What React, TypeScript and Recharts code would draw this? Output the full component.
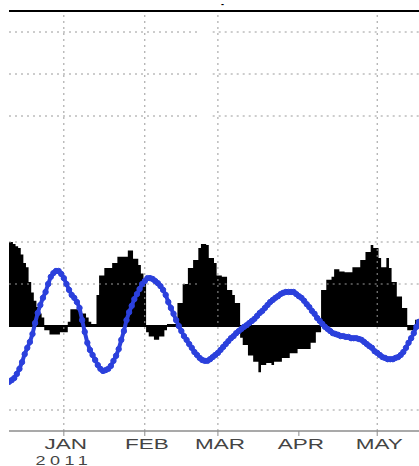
import { Area, ComposedChart, Line, ReferenceLine, XAxis, YAxis } from "recharts";

// days counted from 1 Jan 2011; first sample is 11 Dec 2010
const START_DAY = -21;

// daily anomaly (black step bars)
const anomaly = [
  20, 20, 19.5, 19, 18.6, 17, 15, 14, 10.5, 8,
  6, 4.5, 3, 2, -1, -1, -2, -2, -2, -2,
  -1.5, -1.5, -1.5, 1, 4, 4, 4, 3.5, 3, 3,
  2, 1, 0.5, 0.5, 7.4, 12, 12, 13.8, 13.8, 13.8,
  15, 15, 16.5, 16.5, 16.5, 16.5, 18, 18, 16, 16,
  14.5, 12.5, 10, -1.5, -2.5, -2.5, -3.3, -3.3, -2.5, -2.5,
  -1, 0.5, 0.5, 0.5, 0.5, 5.5, 5.5, 10, 10, 13.8,
  13.8, 15.7, 15.7, 18.6, 19.5, 19.5, 19.3, 16.2, 16.2, 15,
  12, 12, 11.7, 11.7, 8.6, 8.6, 7.4, 5.5, 5.5, -2.8,
  -4.5, -4.5, -7, -7, -8.5, -8.5, -11, -9.3, -9.3, -8.8,
  -8.8, -9.3, -8.5, -8.5, -8.5, -7.6, -7.6, -7.6, -6.5, -6.5,
  -6.5, -5.5, -5.5, -5.5, -5.5, -5.5, -4, -4, -1.5, -1.5,
  8.6, 8.6, 11, 11, 11.7, 13.5, 13.5, 13, 13, 12.8,
  12.8, 12.8, 14, 14, 14, 15.7, 15.7, 17.6, 17.6, 19.3,
  18.6, 18.6, 16.2, 14, 14, 16.2, 13.8, 10.5, 10.5, 7,
  7, 4.3, 4.3, -1, -1, -1, 1.5, 1.5,
];

// smoothed series (blue line with markers)
const smoothed = [
  -13.3, -12.9, -12.4, -11.4, -10.2, -8.6, -6.7, -5.2, -3.8, -1.9,
  0.7, 3.1, 5.0, 6.7, 8.1, 10.0, 11.7, 12.6, 13.1, 13.1,
  12.4, 11.4, 10.0, 8.6, 7.4, 6.7, 5.7, 4.3, 1.4, -1.4,
  -4.0, -5.7, -6.9, -8.1, -9.3, -10.2, -10.7, -10.5, -10.2, -9.5,
  -8.3, -7.1, -5.5, -3.3, -1.2, 1.4, 3.3, 4.8, 6.4, 7.6,
  8.8, 10.0, 10.7, 11.4, 11.4, 11.2, 10.7, 10.2, 9.5, 8.6,
  7.4, 5.7, 4.3, 2.9, 1.4, 0.0, -1.2, -2.4, -3.3, -4.3,
  -5.2, -6.2, -6.9, -7.6, -8.1, -8.3, -8.3, -7.9, -7.4, -6.9,
  -6.4, -5.7, -5.0, -4.3, -3.6, -2.9, -2.4, -1.7, -1.2, -0.7,
  -0.2, 0.2, 0.7, 1.2, 1.7, 2.4, 3.1, 3.6, 4.3, 5.0,
  5.7, 6.2, 6.7, 7.1, 7.6, 7.9, 8.1, 8.1, 8.1, 8.1,
  7.6, 7.1, 6.7, 6.0, 5.2, 4.5, 3.6, 2.9, 1.9, 1.2,
  0.5, -0.2, -0.7, -1.2, -1.7, -1.9, -2.1, -2.4, -2.4, -2.6,
  -2.6, -2.9, -2.9, -2.9, -3.1, -3.3, -3.8, -4.3, -4.8, -5.2,
  -6.0, -6.4, -6.9, -7.4, -7.6, -7.9, -7.9, -7.9, -7.6, -7.4,
  -6.9, -6.2, -5.2, -4.0, -2.9, -1.7, -0.2, 1.0,
];

const monthTicks = [0, 31, 59, 90, 120];
const monthLabels = ["JAN", "FEB", "MAR", "APR", "MAY"];
const yearLabel = "2011";
const gridDays = [0, 31, 59, 120];
const gridLevels = [70, 60, 50, 20, 10, -20];
const gridBreak = [52, 57];

const X_DOMAIN: [number, number] = [START_DAY, START_DAY + anomaly.length - 1];
const Y_DOMAIN: [number, number] = [-25, 75];

const BLUE = "#2b40dc";
const GRID = "#9a9a9a";

const data = anomaly.map((v, i) => ({
  day: START_DAY + i,
  anomaly: v,
  smoothed: smoothed[i],
}));

function MonthTick({ x, y, payload }: any) {
  const idx = monthTicks.indexOf(payload.value);
  return (
    <g>
      <text
        transform={`translate(${x + 2},${y + 13}) scale(1.5,1)`}
        textAnchor="middle"
        fontFamily="Liberation Sans, Arial, sans-serif"
        fontSize={15}
        fill="#444"
      >
        {monthLabels[idx]}
      </text>
      {idx === 0 && (
        <text
          transform={`translate(${x},${y + 29}) scale(1.5,1)`}
          textAnchor="middle"
          fontFamily="Liberation Sans, Arial, sans-serif"
          fontSize={12}
          letterSpacing={3}
          fill="#444"
        >
          {yearLabel}
        </text>
      )}
    </g>
  );
}

export default function App() {
  return (
    <div
      style={{
        position: "fixed",
        left: 0,
        top: 0,
        width: 419,
        height: 466,
        overflow: "hidden",
        background: "#fff",
      }}
    >
      <div
        style={{
          position: "absolute",
          left: 221,
          top: 0,
          lineHeight: "8px",
          fontFamily: "Liberation Sans, sans-serif",
          fontSize: 9,
          fontWeight: 700,
        }}
      >
        -
      </div>
      <ComposedChart
        width={419}
        height={466}
        data={data}
        margin={{ top: 11, right: 0, left: 9, bottom: 0 }}
      >
        <XAxis
          dataKey="day"
          type="number"
          domain={X_DOMAIN}
          ticks={monthTicks}
          interval={0}
          allowDataOverflow
          height={35}
          tickSize={5}
          tickMargin={0}
          axisLine={{ stroke: "#8c8c8c", strokeWidth: 1.5 }}
          tickLine={{ stroke: "#8c8c8c" }}
          tick={<MonthTick />}
        />
        <YAxis hide type="number" domain={Y_DOMAIN} allowDataOverflow />
        <Area
          dataKey="anomaly"
          type="step"
          baseValue={0}
          fill="#000"
          fillOpacity={1}
          stroke="none"
          isAnimationActive={false}
        />
        {gridLevels.map((lvl) => (
          <ReferenceLine
            key={`hl-${lvl}`}
            segment={[
              { x: X_DOMAIN[0], y: lvl },
              { x: gridBreak[0], y: lvl },
            ]}
            stroke={GRID}
            strokeDasharray="2 4"
          />
        ))}
        {gridLevels.map((lvl) => (
          <ReferenceLine
            key={`hr-${lvl}`}
            segment={[
              { x: gridBreak[1], y: lvl },
              { x: X_DOMAIN[1], y: lvl },
            ]}
            stroke={GRID}
            strokeDasharray="2 4"
          />
        ))}
        {gridDays.map((d) => (
          <ReferenceLine key={`v-${d}`} x={d} stroke={GRID} strokeDasharray="2 4" />
        ))}
        <ReferenceLine y={Y_DOMAIN[1]} stroke="#000" strokeWidth={2} />
        <ReferenceLine y={0} stroke="#000" strokeWidth={2} />
        <Line
          dataKey="smoothed"
          type="linear"
          stroke={BLUE}
          strokeWidth={4}
          dot={{ r: 2.7, fill: BLUE, stroke: BLUE, strokeWidth: 1 }}
          isAnimationActive={false}
        />
      </ComposedChart>
    </div>
  );
}
